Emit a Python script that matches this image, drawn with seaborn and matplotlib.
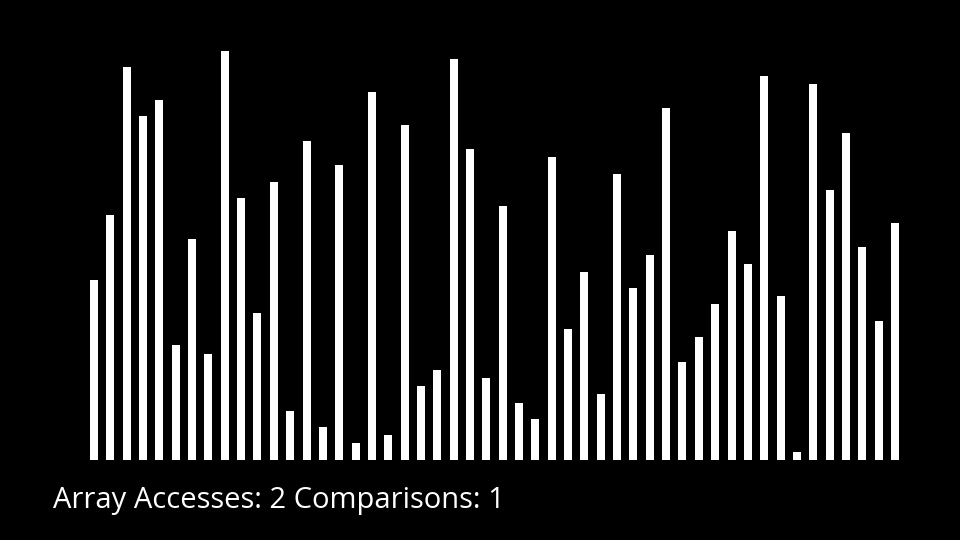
import pandas as pd
import seaborn as sns
import matplotlib.pyplot as plt

# bar heights (pixels above the baseline)
heights = [180, 245, 393, 344, 360, 115, 221, 106, 409, 262,
           147, 278, 49, 319, 33, 295, 17, 368, 25, 335,
           74, 90, 401, 311, 82, 254, 57, 41, 303, 131,
           188, 66, 286, 172, 205, 352, 98, 123, 156, 229,
           196, 384, 164, 8, 376, 270, 327, 213, 139, 237]
positions = list(range(len(heights)))
label = "Array Accesses: 2 Comparisons: 1"

df = pd.DataFrame({"pos": positions, "height": heights})

sns.set_style("dark")
plt.rcParams['font.family'] = ['Open Sans', 'DejaVu Sans']

fig = plt.figure(figsize=(9.6, 5.4), dpi=100, facecolor="black")
ax = fig.add_axes([90 / 960, 80 / 540, (899 - 90) / 960, 420 / 540])
ax.set_facecolor("black")

bw = 0.49
sns.barplot(data=df, x="pos", y="height", color="white", width=bw,
            linewidth=0, saturation=1, ax=ax)
ax.set_xlim(-bw / 2, len(heights) - 1 + bw / 2)
ax.set_ylim(0, 420)
ax.set_axis_off()

# counter text under the bars
fig.text(53 / 960, 1 - 508 / 540, label, color="white", fontsize=21,
         ha="left", va="baseline")

fig.savefig("out.png", dpi=100, facecolor="black")
